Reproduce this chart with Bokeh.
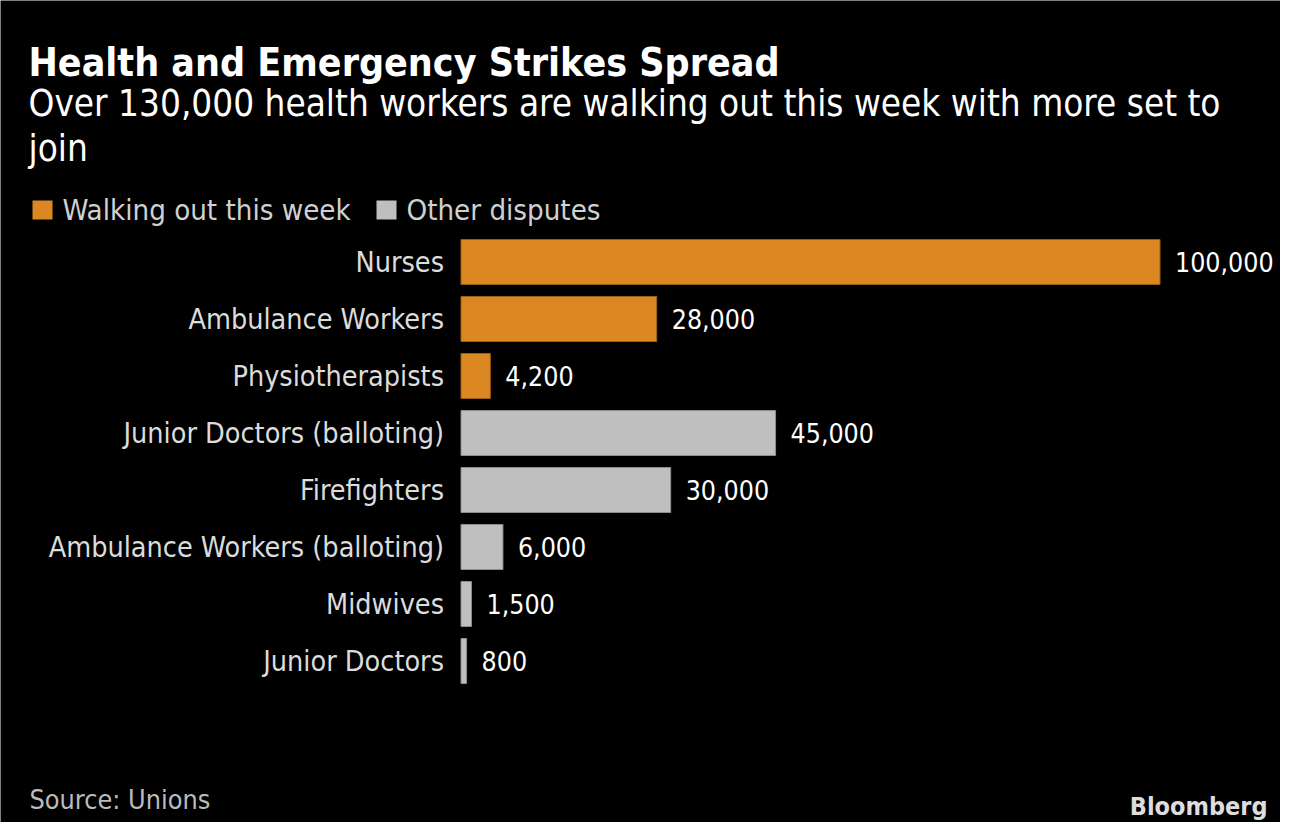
from bokeh.plotting import figure
from bokeh.models import Range1d, Label, ColumnDataSource, BoxAnnotation
from bokeh.core.properties import value
from bokeh.embed import file_html
from bokeh.resources import INLINE

# ---- data ----
categories = ["Nurses", "Ambulance Workers", "Physiotherapists",
              "Junior Doctors (balloting)", "Firefighters",
              "Ambulance Workers (balloting)", "Midwives", "Junior Doctors"]
workers = [100000, 28000, 4200, 45000, 30000, 6000, 1500, 800]
groups = ["Walking out this week"] * 3 + ["Other disputes"] * 5
group_names = ["Walking out this week", "Other disputes"]
group_colors = ["#DB8823", "#BFBFBF"]
group_edges = ["#9A5E16", "#8C8C8C"]

title_text = "Health and Emergency Strikes Spread"
subtitle_lines = ["Over 130,000 health workers are walking out this week with more set to", "join"]
source_text = "Source: Unions"

# ---- layout ----
W, H = 1280, 822
FONT = "DejaVu Sans Condensed"
x0_px = 460.5
px_per_unit = 699.0 / 100000
row_px = 57.0
first_row_px = 261.5
dy = 13  # label baseline correction

x_range = Range1d(-x0_px / px_per_unit, (W - x0_px) / px_per_unit)
y_range = Range1d(-(H - first_row_px) / row_px, first_row_px / row_px)

color_map = dict(zip(group_names, group_colors))
edge_map = dict(zip(group_names, group_edges))
src = ColumnDataSource(dict(
    cat=categories,
    workers=workers,
    ypos=[-i for i in range(len(categories))],
    fill=[color_map[g] for g in groups],
    edge=[edge_map[g] for g in groups],
    lbl=[f"{v:,}" for v in workers],
))

p = figure(width=W, height=H, x_range=x_range, y_range=y_range,
           output_backend="svg", toolbar_location=None,
           x_axis_location=None, y_axis_location=None,
           min_border=0, background_fill_color="black",
           border_fill_color="black", outline_line_color=None)
p.grid.visible = False

p.hbar(y="ypos", left=0, right="workers", height=0.79, source=src,
       fill_color="fill", line_color="edge", line_width=1)

p.text(x="workers", y="ypos", text="lbl", source=src, x_offset=15,
       text_baseline="middle", text_align="left",
       text_font=value(FONT), text_font_size="26.5px", text_color="white")

p.text(x=0, y="ypos", text="cat", source=src, x_offset=-17,
       text_baseline="middle", text_align="right",
       text_font=value(FONT), text_font_size="28.5px", text_color="#DCDCDC")

# titles
p.add_layout(Label(x=28, y=747 + dy, x_units="screen", y_units="screen", text=title_text,
                   text_font=FONT, text_font_size="39px", text_font_style="bold",
                   text_color="white", text_baseline="alphabetic"))
for i, line in enumerate(subtitle_lines):
    p.add_layout(Label(x=28, y=706 - 45 * i + dy, x_units="screen", y_units="screen", text=line,
                       text_font=FONT, text_font_size="36.6px",
                       text_color="white", text_baseline="alphabetic"))

# legend
legend_x = [32, 376]
for gx, name, col in zip(legend_x, group_names, group_colors):
    p.add_layout(BoxAnnotation(left=gx, right=gx + 20, bottom=603, top=622,
                               left_units="screen", right_units="screen",
                               bottom_units="screen", top_units="screen",
                               fill_color=col, fill_alpha=1, line_color=None))
    p.add_layout(Label(x=gx + 30, y=600 + dy, x_units="screen", y_units="screen", text=name,
                       text_font=FONT, text_font_size="29.2px",
                       text_color="#D0D0D0", text_baseline="alphabetic"))

# footer
p.add_layout(Label(x=29, y=10 + dy, x_units="screen", y_units="screen", text=source_text,
                   text_font=FONT, text_font_size="26.8px",
                   text_color="#BBBBBB", text_baseline="alphabetic"))
p.add_layout(Label(x=1267, y=3 + dy, x_units="screen", y_units="screen", text="Bloomberg",
                   text_font=FONT, text_font_size="25px", text_font_style="bold",
                   text_color="#DDDDDD", text_baseline="alphabetic", text_align="right"))

open("out.html", "w").write(file_html(p, INLINE))
